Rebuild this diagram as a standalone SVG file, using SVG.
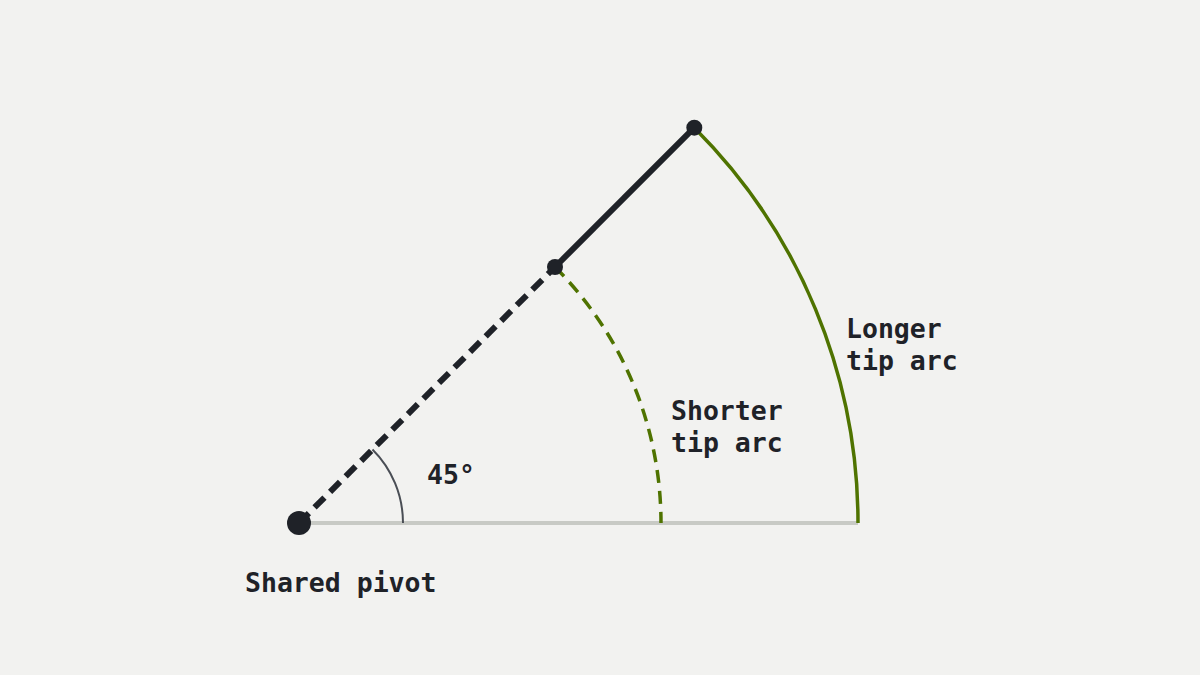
<svg xmlns="http://www.w3.org/2000/svg" width="1200" height="675" viewBox="0 0 1200 675">
<style>
.lbl{font-family:"DejaVu Sans Mono","Liberation Mono",monospace;font-weight:bold;font-size:26.5px;fill:#1f2228}
.dot{fill:#1f2228}
</style>
<rect width="1200" height="675" fill="#f2f2f0"/>
<g id="connectors" fill="none">
<line x1="299" y1="523" x2="858" y2="523" stroke="#c8cac5" stroke-width="4"/>
<path d="M403,523 A104,104 0 0 0 372.5,449.5" stroke="#4a4e55" stroke-width="2"/>
<path d="M555,267 A362,362 0 0 1 661,523" stroke="#4f7300" stroke-width="3.5" stroke-dasharray="13 8"/>
<path d="M694.3,127.7 A559,559 0 0 1 858,523" stroke="#4f7300" stroke-width="3.5"/>
<line x1="299" y1="523" x2="555" y2="267" stroke="#1f2228" stroke-width="6" stroke-dasharray="14 8"/>
<line x1="555" y1="267" x2="694.3" y2="127.7" stroke="#1f2228" stroke-width="6"/>
</g>
<g id="pivot"><circle class="dot" cx="299" cy="523" r="12"/><text class="lbl" x="245" y="591.5">Shared pivot</text></g>
<g id="short-tip"><circle class="dot" cx="555" cy="267" r="8"/></g>
<g id="long-tip"><circle class="dot" cx="694.3" cy="127.7" r="8"/></g>
<g id="angle-label"><text class="lbl" x="427" y="484">45°</text></g>
<g id="short-arc-label"><text class="lbl" x="671" y="420">Shorter</text><text class="lbl" x="671" y="452">tip arc</text></g>
<g id="long-arc-label"><text class="lbl" x="846" y="338">Longer</text><text class="lbl" x="846" y="370">tip arc</text></g>
</svg>
